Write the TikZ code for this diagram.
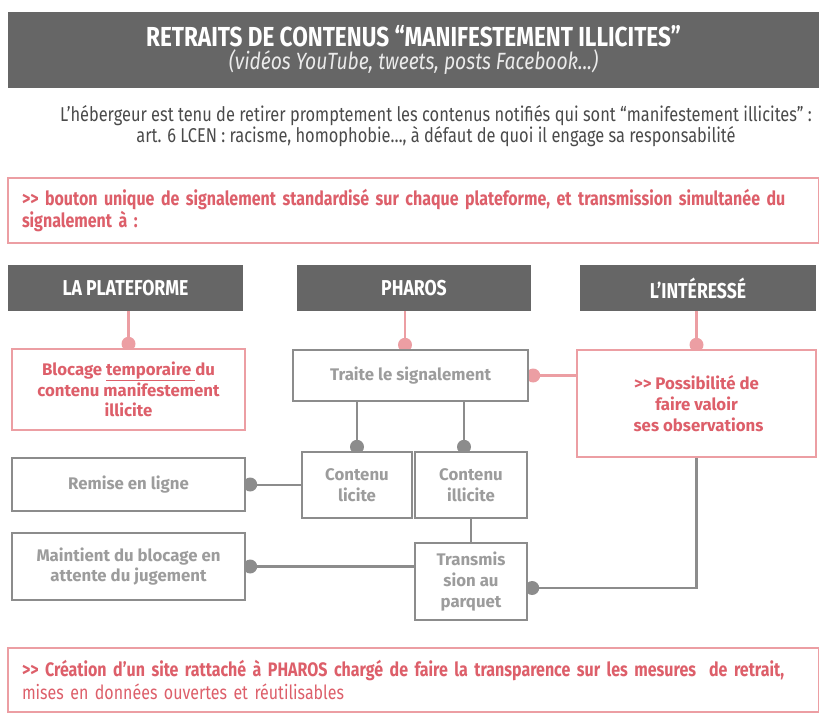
\documentclass[tikz,border=0pt]{standalone}
\usepackage{fontspec}
\setmainfont{Fira Sans}
\newfontfamily\condf[FakeStretch=0.82]{Fira Sans}
\usetikzlibrary{backgrounds}
\definecolor{hdrgray}{HTML}{666666}
\definecolor{pinkline}{HTML}{EC9EA3}
\definecolor{redtxt}{HTML}{DD5F6A}
\definecolor{grayline}{HTML}{8C8C8C}
\definecolor{graytxt}{HTML}{9C9C9C}
\definecolor{introtxt}{HTML}{4A4A4A}
\tikzset{
  hdr/.style={fill=hdrgray, draw=none, text=white, font=\condf\bfseries\fontsize{21.5}{23}\selectfont, inner sep=0pt, align=center},
  pinkbox/.style={draw=pinkline, line width=2.4pt, fill=white, text=redtxt, font=\bfseries\fontsize{16.8}{20.8}\selectfont, align=center, inner sep=0pt},
  graybox/.style={draw=grayline, line width=2.4pt, fill=white, text=graytxt, font=\bfseries\fontsize{16.8}{20.8}\selectfont, align=center, inner sep=0pt},
  banner/.style={draw=pinkline, line width=2.4pt, fill=white, text=redtxt, font=\condf\bfseries\fontsize{19.5}{22.5}\selectfont, align=left, inner sep=0pt},
  pinkconn/.style={draw=pinkline, line width=2.8pt},
  grayconn/.style={draw=grayline, line width=2.8pt},
  pinkdot/.style={fill=pinkline},
  graydot/.style={fill=grayline}
}
\begin{document}
\begin{tikzpicture}[x=1pt,y=-1pt]
\useasboundingbox (0,0) rectangle (819,720);
% title
\node[hdr, minimum width=811pt, minimum height=76pt, font=\condf\bfseries\fontsize{27.5}{22.5}\selectfont] (title) at (413.5,50)
  {RETRAITS DE CONTENUS “MANIFESTEMENT ILLICITES”\\
   {\mdseries\itshape\color{white!92!black}\fontsize{23.5}{22.5}\selectfont(vidéos YouTube, tweets, posts Facebook...)}};
\node[text=introtxt, font=\condf\fontsize{20}{19.5}\selectfont, align=center, inner sep=0pt] (intro) at (436,126)
  {L’hébergeur est tenu de retirer promptement les contenus notifiés qui sont “manifestement illicites” :\\
   art. 6 LCEN : racisme, homophobie…, à défaut de quoi il engage sa responsabilité};
% top banner
\node[banner, minimum width=811pt, minimum height=65pt, text width=783pt] (top) at (413.5,210.5)
  {>\kern0pt> bouton unique de signalement standardisé sur chaque plateforme, et transmission simultanée du\\signalement à :};
% headers
\node[hdr, minimum width=235pt, minimum height=46pt] (hplat) at (125.5,288) {LA PLATEFORME};
\node[hdr, minimum width=234pt, minimum height=46pt] (hpharos) at (414,288) {PHAROS};
\node[hdr, minimum width=236pt, minimum height=46pt] (hint) at (698,288) {L’INTÉRESSÉ};
% boxes
\node[pinkbox, minimum width=233pt, minimum height=81pt] (blocage) at (128.5,389.5)
  {Blocage \underline{temporaire\ }du\\contenu manifestement\\illicite};
\node[graybox, minimum width=235pt, minimum height=51pt] (traite) at (410.5,375.5) {Traite le signalement};
\node[pinkbox, minimum width=239pt, minimum height=107pt] (possib) at (696.5,403.5)
  {>\kern0pt> Possibilité de\\faire valoir\\ \ ses observations};
\node[graybox, minimum width=110pt, minimum height=66pt] (licite) at (357,485) {Contenu\\licite};
\node[graybox, minimum width=112pt, minimum height=66pt] (illicite) at (471,485) {Contenu\\illicite};
\node[graybox, minimum width=233pt, minimum height=53pt] (remise) at (128.5,484.5) {Remise en ligne};
\node[graybox, minimum width=233pt, minimum height=67pt] (maint) at (128.5,566.5) {Maintient du blocage en\\attente du jugement};
\node[graybox, minimum width=112pt, minimum height=77pt] (transm) at (471,581.5) {Transmis\\sion au\\parquet};
% bottom banner
\node[banner, minimum width=811pt, minimum height=64pt, text width=783pt] (bottom) at (413.5,680)
  {>\kern0pt> Création d’un site rattaché à PHAROS chargé de faire la transparence sur les mesures~ de retrait,\\
   {\mdseries mises en données ouvertes et réutilisables}};
% connectors
\begin{pgfonlayer}{background}
\draw[pinkconn] (hplat.south -| blocage.north) -- (blocage.north);
\fill[pinkdot] ([yshift=4pt]blocage.north) circle (7pt);
\draw[pinkconn] ([xshift=-9pt]hpharos.south) -- ([xshift=-9pt]hpharos.south |- traite.north);
\fill[pinkdot] ([xshift=-9pt,yshift=4pt]hpharos.south |- traite.north) circle (7pt);
\draw[pinkconn] (hint.south -| possib.north) -- (possib.north);
\fill[pinkdot] ([yshift=4pt]possib.north) circle (7pt);
\draw[pinkconn] (traite.east) -- (possib.west |- traite.east);
\fill[pinkdot] ([xshift=4pt]traite.east) circle (7pt);
\draw[grayconn] (traite.south -| licite.north) -- (licite.north);
\fill[graydot] ([yshift=4pt]licite.north) circle (7pt);
\draw[grayconn] ([xshift=-7pt]traite.south -| illicite.north) -- ([xshift=-7pt]illicite.north);
\fill[graydot] ([xshift=-7pt,yshift=4pt]illicite.north) circle (7pt);
\draw[grayconn] (licite.west) -- (remise.east |- licite.west);
\fill[graydot] ([xshift=4pt]remise.east) circle (7pt);
\draw[grayconn] (illicite.south) -- (transm.north);
\draw[grayconn] (maint.east) -- (maint.east -| transm.west);
\fill[graydot] ([xshift=4pt]maint.east) circle (7pt);
\draw[grayconn] (possib.south) |- ([yshift=-6.5pt]transm.east);
\fill[graydot] ([xshift=4pt,yshift=-6.5pt]transm.east) circle (7pt);
\end{pgfonlayer}
\end{tikzpicture}
\end{document}
